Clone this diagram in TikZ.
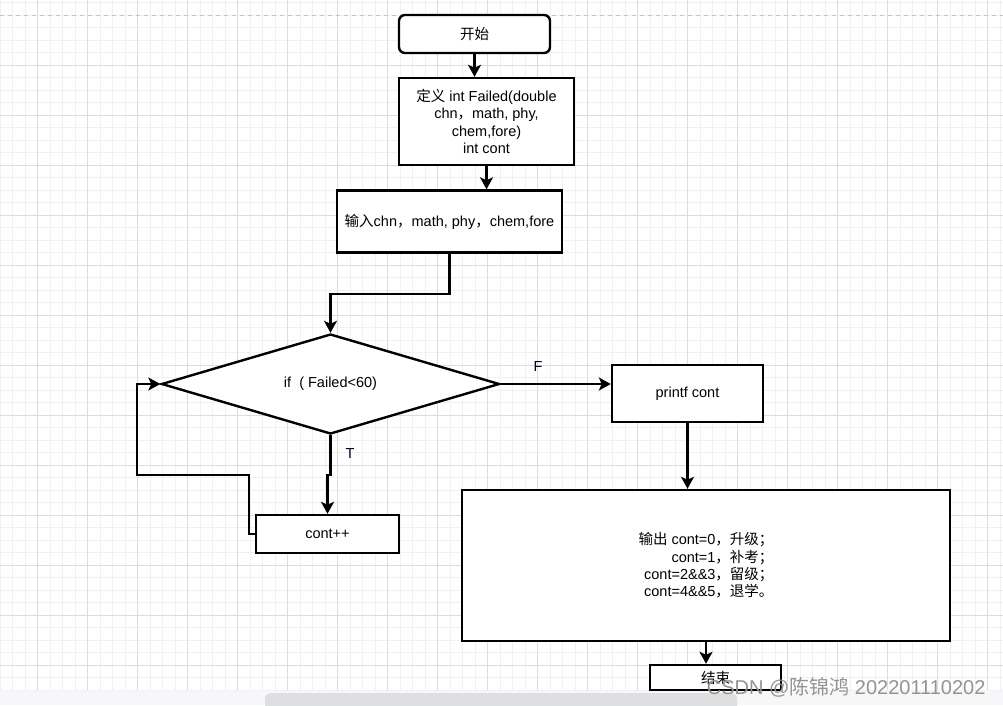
\documentclass[tikz,border=0pt]{standalone}
\usepackage{fontspec}
\setmainfont{Liberation Sans}
\newfontfamily\cjk{Noto Sans CJK SC}
\usetikzlibrary{arrows.meta,shapes.geometric}
\definecolor{gridminor}{HTML}{F1F1F1}
\definecolor{gridmajor}{HTML}{DCDCDC}
\definecolor{pagedash}{HTML}{C4C4C4}
\definecolor{stripbg}{HTML}{F6F7F9}
\definecolor{scrollbar}{HTML}{DEDFE1}
\tikzset{
  box/.style={draw=black, line width=2.4pt, fill=white, rectangle, inner sep=2pt,
    font=\fontsize{14.5}{17.4}\selectfont, align=center},
  flow/.style={draw=black, line width=2.4pt, -{Stealth[length=12pt,width=13pt,inset=3pt]}},
  lbl/.style={font=\fontsize{14.5}{17.4}\selectfont, text=black!85!blue},
}
\begin{document}
\begin{tikzpicture}[x=1pt,y=-1pt]
\useasboundingbox (0,0) rectangle (1003,705);
\fill[white] (0,0) rectangle (1003,705);
% grid
\foreach \i in {0,...,80} {
  \draw[gridminor, line width=1pt] (\i*12.5,0) -- (\i*12.5,690);
}
\foreach \j in {0,...,55} {
  \draw[gridminor, line width=1pt] (0,2.5+\j*12.5) -- (1003,2.5+\j*12.5);
}
\foreach \i in {0,...,19} {
  \draw[gridmajor, line width=1pt] (37.5+\i*50,0) -- (37.5+\i*50,690);
}
\foreach \j in {1,...,13} {
  \draw[gridmajor, line width=1pt] (0,15+\j*50) -- (1003,15+\j*50);
}
\draw[pagedash, line width=1.5pt, dash pattern=on 4pt off 4pt] (0,15.5) -- (1003,15.5);

% nodes
\node[box, rounded corners=6pt, minimum width=151pt, minimum height=38pt] (start) at (474.5,34) {{\cjk 开始}};
\node[box, minimum width=175pt, minimum height=87pt] (def) at (486.5,121.5)
  {{\cjk 定义} int Failed(double\\chn{\cjk ，}math, phy,\\chem,fore)\\int cont};
\node[box, minimum width=225pt, minimum height=62pt] (inp) at (449.5,221.5)
  {{\cjk 输入}chn{\cjk ，}math, phy{\cjk ，}chem,fore};
\node[box, diamond, aspect=4, minimum width=338pt, minimum height=100pt, inner sep=0pt] (dia) at (330.5,384)
  {if\ \ ( Failed<60)};
\node[box, minimum width=151pt, minimum height=57pt] (pr) at (687.5,393.5) {printf cont};
\node[box, minimum width=488pt, minimum height=151pt, align=right] (out) at (706,565.5)
  {{\cjk 输出} cont=0{\cjk ，升级；}\\cont=1{\cjk ，补考；}\\cont=2\&\&3{\cjk ，留级；}\\cont=4\&\&5{\cjk ，退学。}};
\node[box, minimum width=131pt, minimum height=25pt] (fin) at (715.5,677.5) {{\cjk 结束}};
\node[box, minimum width=143pt, minimum height=38pt] (cnt) at (327.5,534) {cont++};

% connectors
\coordinate (lp1) at (249,475);
\coordinate (lp2) at (137,475);
\draw[flow] (start.south) -- (start.south |- def.north);
\draw[flow] (def.south) -- (def.south |- inp.north);
\draw[flow] (inp.south) -- ++(0,40.5) -| (dia.north);
\draw[flow] (dia.east) -- (dia.east -| pr.west);
\draw[flow] (pr.south) -- (pr.south |- out.north);
\draw[flow] (out.south) -- (out.south |- fin.north);
\draw[flow] (dia.south) -- ++(0,40) -| (cnt.north);
\draw[flow] (cnt.west) -| (lp1) -- (lp2) |- (dia.west);

\node[lbl] (fl) at (538,367) {F};
\node[lbl] (tl) at (350,454) {T};

% bottom strip and scroll bar
\fill[stripbg] (0,690.5) rectangle (1003,705);
\fill[scrollbar, rounded corners=6pt] (265,693) rectangle (737,712);
\node[text=gray!85, font=\fontsize{20}{24}\selectfont, anchor=east] (wm) at (989,687)
  {CSDN @{\cjk 陈锦鸿} 202201110202};
\end{tikzpicture}
\end{document}
